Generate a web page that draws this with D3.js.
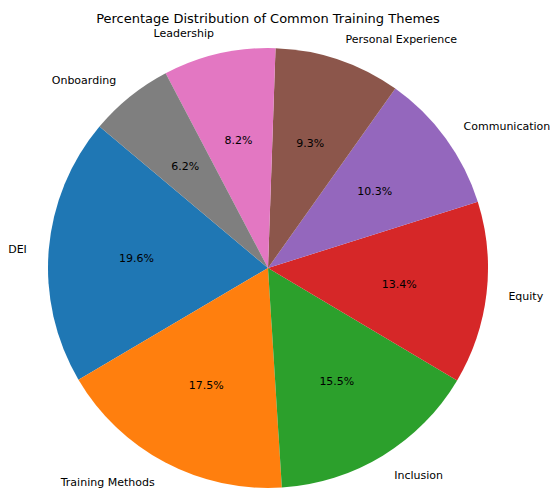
<!DOCTYPE html>
<html>
<head>
<meta charset="utf-8">
<script src="https://cdn.jsdelivr.net/npm/d3@7"></script>
<style>
body { margin: 0; background: #fff; }
text { font-family: "DejaVu Sans", sans-serif; }
</style>
</head>
<body>
<svg id="chart" width="551" height="489"></svg>
<script>
const categories = ["DEI", "Training Methods", "Inclusion", "Equity", "Communication", "Personal Experience", "Leadership", "Onboarding"];
const values = [19, 17, 15, 13, 10, 9, 8, 6];
const colors = ["#1f77b4", "#ff7f0e", "#2ca02c", "#d62728", "#9467bd", "#8c564b", "#e377c2", "#7f7f7f"];
const title = "Percentage Distribution of Common Training Themes";

const svg = d3.select("#chart");
const cx = 268, cy = 268, r = 220;
const startDeg = 140; // matplotlib startangle, counterclockwise
const a0 = (90 - startDeg) * Math.PI / 180;

const data = categories.map((c, i) => ({ name: c, value: values[i], color: colors[i] }));
const total = d3.sum(values);
const pie = d3.pie().value(d => d.value).sort(null).startAngle(a0).endAngle(a0 - 2 * Math.PI);
const arcs = pie(data);
const arc = d3.arc().innerRadius(0).outerRadius(r);

const g = svg.append("g").attr("transform", `translate(${cx},${cy})`);
g.selectAll("path").data(arcs).join("path")
  .attr("d", arc)
  .attr("fill", d => d.data.color);

function pos(d, k) {
  const m = (d.startAngle + d.endAngle) / 2;
  return [k * r * Math.sin(m), -k * r * Math.cos(m)];
}

g.selectAll("text.pct").data(arcs).join("text")
  .attr("class", "pct")
  .attr("x", d => pos(d, 0.6)[0])
  .attr("y", d => pos(d, 0.6)[1] + 1)
  .attr("text-anchor", "middle")
  .attr("dominant-baseline", "central")
  .attr("font-size", "11px")
  .attr("fill", "#000")
  .text(d => d3.format(".1f")(d.data.value / total * 100) + "%");

g.selectAll("text.lbl").data(arcs).join("text")
  .attr("class", "lbl")
  .attr("x", d => pos(d, 1.1)[0])
  .attr("y", d => pos(d, 1.1)[1] + 1)
  .attr("text-anchor", d => pos(d, 1.1)[0] < 0 ? "end" : "start")
  .attr("dominant-baseline", "central")
  .attr("font-size", "11px")
  .attr("fill", "#000")
  .text(d => d.data.name);

svg.append("text")
  .attr("x", 268)
  .attr("y", 18)
  .attr("text-anchor", "middle")
  .attr("dominant-baseline", "central")
  .attr("font-size", "13px")
  .attr("fill", "#000")
  .text(title);
</script>
</body>
</html>
